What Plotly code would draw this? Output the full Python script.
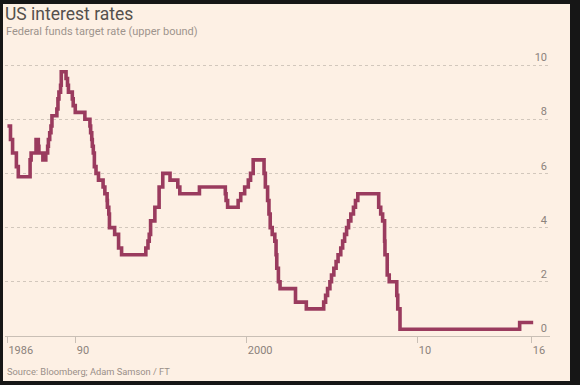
import plotly.graph_objects as go

# Federal funds target rate (upper bound): change dates and new levels
change_dates = [
    "1986-01-01", "1986-03-07", "1986-04-21", "1986-07-11", "1986-08-21",
    "1987-04-30", "1987-05-22", "1987-09-04", "1987-10-22", "1987-11-04",
    "1988-01-28", "1988-03-30", "1988-05-09", "1988-05-25", "1988-06-22",
    "1988-07-19", "1988-08-09", "1988-11-22", "1988-12-15", "1989-01-05",
    "1989-02-09", "1989-02-24", "1989-06-06", "1989-07-07", "1989-07-27",
    "1989-10-18", "1989-11-06", "1989-12-20", "1990-07-13", "1990-10-29",
    "1990-11-13", "1990-12-07", "1990-12-19", "1991-01-09", "1991-02-01",
    "1991-03-08", "1991-04-30", "1991-08-06", "1991-09-13", "1991-10-31",
    "1991-11-06", "1991-12-06", "1991-12-20", "1992-04-09", "1992-07-02",
    "1992-09-04", "1994-02-04", "1994-03-22", "1994-04-18", "1994-05-17",
    "1994-08-16", "1994-11-15", "1995-02-01", "1995-07-06", "1995-12-19",
    "1996-01-31", "1997-03-25", "1998-09-29", "1998-10-15", "1998-11-17",
    "1999-06-30", "1999-08-24", "1999-11-16", "2000-02-02", "2000-03-21",
    "2000-05-16", "2001-01-03", "2001-01-31", "2001-03-20", "2001-04-18",
    "2001-05-15", "2001-06-27", "2001-08-21", "2001-09-17", "2001-10-02",
    "2001-11-06", "2001-12-11", "2002-11-06", "2003-06-25", "2004-06-30",
    "2004-08-10", "2004-09-21", "2004-11-10", "2004-12-14", "2005-02-02",
    "2005-03-22", "2005-05-03", "2005-06-30", "2005-08-09", "2005-09-20",
    "2005-11-01", "2005-12-13", "2006-01-31", "2006-03-28", "2006-05-10",
    "2006-06-29", "2007-09-18", "2007-10-31", "2007-12-11", "2008-01-22",
    "2008-01-30", "2008-03-18", "2008-04-30", "2008-10-08", "2008-10-29",
    "2008-12-16", "2015-12-16", "2016-09-30",
]
rates = [
    7.75, 7.25, 6.75, 6.25, 5.875,
    6.5, 6.75, 7.25, 7.0, 6.75,
    6.5, 6.75, 7.0, 7.25, 7.5,
    7.75, 8.125, 8.375, 8.75, 9.0,
    9.25, 9.75, 9.5, 9.25, 9.0,
    8.75, 8.5, 8.25, 8.0, 7.75,
    7.5, 7.25, 7.0, 6.75, 6.25,
    6.0, 5.75, 5.5, 5.25, 5.0,
    4.75, 4.5, 4.0, 3.75, 3.25,
    3.0, 3.25, 3.5, 3.75, 4.25,
    4.75, 5.5, 6.0, 5.75, 5.5,
    5.25, 5.5, 5.25, 5.0, 4.75,
    5.0, 5.25, 5.5, 5.75, 6.0,
    6.5, 6.0, 5.5, 5.0, 4.5,
    4.0, 3.75, 3.5, 3.0, 2.5,
    2.0, 1.75, 1.25, 1.0, 1.25,
    1.5, 1.75, 2.0, 2.25, 2.5,
    2.75, 3.0, 3.25, 3.5, 3.75,
    4.0, 4.25, 4.5, 4.75, 5.0,
    5.25, 4.75, 4.5, 4.25, 3.5,
    3.0, 2.25, 2.0, 1.5, 1.0,
    0.25, 0.5, 0.5,
]

x_tick_vals = ["1986-01-01", "1990-01-01", "2000-01-01", "2010-01-01", "2016-09-01"]
x_tick_text = ["1986", "90", "2000", "10", "16"]
y_tick_vals = [0, 2, 4, 6, 8, 10]
y_tick_text = ["0", "2", "4", "6", "8", "10"]

title_text = "US interest rates"
subtitle_text = "Federal funds target rate (upper bound)"
source_text = "Source: Bloomberg; Adam Samson / FT"

BG = "#FDF0E4"
LINE = "#9A3B5E"
GRID = "#D2C7BC"
TEXT = "#8C827B"
FONT = "Roboto"
FRAME = "#161616"

fig = go.Figure()
fig.add_trace(go.Scatter(
    x=change_dates, y=rates, mode="lines", line_shape="hv",
    line=dict(color=LINE, width=3.6), hoverinfo="skip", showlegend=False,
))

W, H = 580, 385
ml, mr, mt, mb = 5, 30, 45, 49
pw, ph = W - ml - mr, H - mt - mb

def px(x):
    return (x - ml) / pw

def py(y):
    return (H - mb - y) / ph

fig.update_layout(
    width=W, height=H,
    margin=dict(l=ml, r=mr, t=mt, b=mb, pad=0, autoexpand=False),
    paper_bgcolor=FRAME,
    plot_bgcolor=BG,
    font=dict(family=FONT, color=TEXT, size=11),
    showlegend=False,
    xaxis=dict(
        type="date",
        range=["1985-11-10", "2017-09-24"],
        tickvals=x_tick_vals, ticktext=x_tick_text,
        ticklabelposition="outside right", ticklabelstandoff=4,
        ticks="outside", ticklen=6, tickcolor="#C9BFB5", tickwidth=1,
        showline=True, linecolor="#C9BFB5", linewidth=1,
        showgrid=False, zeroline=False, automargin=False,
        tickfont=dict(family=FONT, size=11, color=TEXT),
        fixedrange=True,
    ),
    yaxis=dict(
        range=[0, ph / 27.1], side="right",
        tickvals=y_tick_vals, ticktext=y_tick_text,
        ticklabelposition="inside top", ticks="",
        showgrid=True, gridcolor=GRID, griddash="dot", gridwidth=1,
        zeroline=False, showline=False, automargin=False,
        tickfont=dict(family=FONT, size=11, color=TEXT),
        fixedrange=True,
    ),
    shapes=[dict(
        type="rect", xref="paper", yref="paper", layer="below",
        x0=px(3), x1=px(570), y0=py(4), y1=py(381),
        fillcolor=BG, line=dict(width=0),
    )],
    annotations=[
        dict(text=title_text, xref="paper", yref="paper", x=px(3), y=py(14),
             xanchor="left", yanchor="middle", showarrow=False,
             font=dict(family=FONT, size=17.5, color="#55504D")),
        dict(text=subtitle_text, xref="paper", yref="paper", x=px(4), y=py(32),
             xanchor="left", yanchor="middle", showarrow=False,
             font=dict(family=FONT, size=11, color="#9E948D")),
        dict(text=source_text, xref="paper", yref="paper", x=px(5), y=py(371),
             xanchor="left", yanchor="middle", showarrow=False,
             font=dict(family=FONT, size=9.3, color="#9A8F88")),
    ],
)

fig.write_html(
    "out.html",
    config={"displayModeBar": False},
    post_script="document.body.style.margin='0';document.body.style.background='%s';" % FRAME,
)
